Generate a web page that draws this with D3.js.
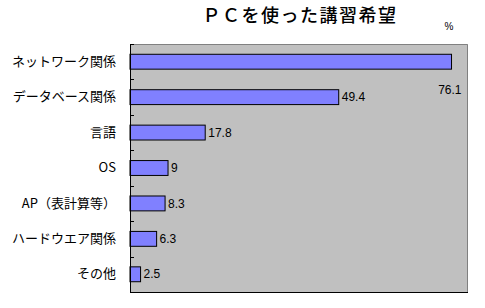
<!DOCTYPE html>
<html><head><meta charset="utf-8">
<script src="https://cdn.jsdelivr.net/npm/d3@7"></script>
<style>body{margin:0;background:#fff}</style>
</head><body>
<script>
const title = "ＰＣを使った講習希望";
const unit = "%";
const categories = ["ネットワーク関係","データベース関係","言語","OS","AP（表計算等）","ハードウエア関係","その他"];
const values = [76.1, 49.4, 17.8, 9, 8.3, 6.3, 2.5];
const valueLabels = ["76.1","49.4","17.8","9","8.3","6.3","2.5"];
const xDomain = [0, 80];

const W = 485, H = 308;
const m = {left:130, top:44, right:468, bottom:292};
const svg = d3.select("body").append("svg").attr("width", W).attr("height", H);

const x = d3.scaleLinear().domain(xDomain).range([m.left, m.right]);
const y = d3.scaleBand().domain(categories).range([m.top, m.bottom]).paddingInner(0.58).paddingOuter(0.29);

svg.append("rect").attr("x", m.left).attr("y", m.top).attr("width", m.right-m.left).attr("height", m.bottom-m.top)
  .attr("fill", "#c0c0c0");
svg.append("path").attr("d", `M${m.left},${m.top+0.5}H${m.right-0.5}V${m.bottom}`).attr("fill","none").attr("stroke","#808080");

svg.append("text").attr("x", 300).attr("y", 22).attr("text-anchor","middle")
  .attr("font-family","'Noto Sans CJK JP'").attr("font-weight",500).attr("font-size",18).attr("letter-spacing",1.5)
  .text(title);
svg.append("text").attr("x", 449).attr("y", 30).attr("text-anchor","middle")
  .attr("font-family","'Liberation Sans', Arial").attr("font-size",10).text(unit);

svg.selectAll("rect.bar").data(values).join("rect").attr("class","bar")
  .attr("x", x(0)).attr("y", (d,i)=>y(categories[i]))
  .attr("width", d=>x(d)-x(0)).attr("height", y.bandwidth())
  .attr("fill","#8080ff").attr("stroke","#000").attr("stroke-width",1);

svg.selectAll("text.val").data(values).join("text").attr("class","val")
  .attr("x", (d,i)=> i===0 ? x(d)+10 : x(d)+3)
  .attr("y", (d,i)=> i===0 ? y(categories[i])+y.bandwidth()/2+28 : y(categories[i])+y.bandwidth()/2)
  .attr("dy","0.35em").attr("text-anchor",(d,i)=> i===0 ? "end":"start")
  .attr("font-family","'Liberation Sans', Arial").attr("font-size",12)
  .text((d,i)=>valueLabels[i]);

const yAxis = d3.axisLeft(y).tickSize(0).tickPadding(14);
const ga = svg.append("g").attr("transform",`translate(${m.left},0)`).call(yAxis);
ga.select(".domain").remove();
ga.selectAll("text").attr("font-family","'Noto Sans CJK JP'").attr("font-size",13).attr("fill","#000");
const bounds = d3.range(categories.length+1).map(i => m.top + i*(m.bottom-m.top)/categories.length);
svg.selectAll("line.tk").data(bounds).join("line").attr("class","tk")
  .attr("x1", m.left).attr("x2", m.left+4).attr("y1", d=>Math.round(d)+0.5).attr("y2", d=>Math.round(d)+0.5)
  .attr("stroke","#000");
svg.append("line").attr("x1",m.left+0.5).attr("x2",m.left+0.5).attr("y1",m.top).attr("y2",m.bottom).attr("stroke","#000");
svg.append("line").attr("x1",m.left).attr("x2",m.right).attr("y1",m.bottom+0.5).attr("y2",m.bottom+0.5).attr("stroke","#000");
</script>
</body></html>
